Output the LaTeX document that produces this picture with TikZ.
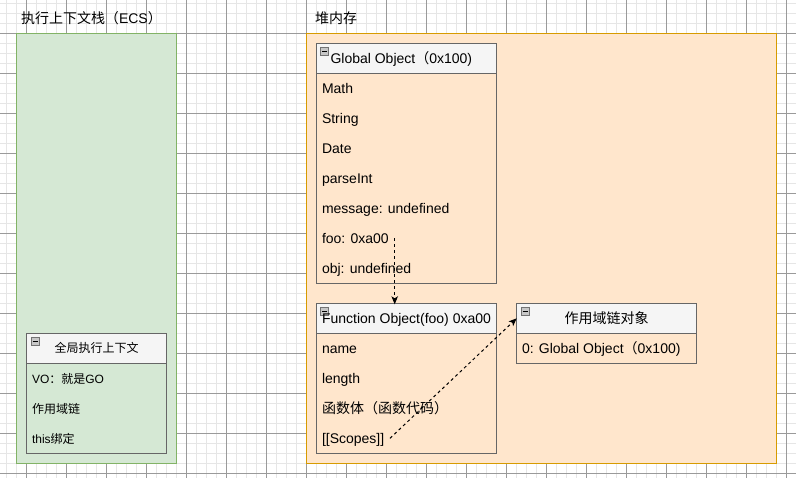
\documentclass[tikz,border=0pt]{standalone}
\usepackage{fontspec}
\setmainfont{Liberation Sans}
\newfontfamily\cjk{Noto Sans CJK SC}
\usetikzlibrary{arrows.meta}
\definecolor{gridminor}{HTML}{E6E6E6}
\definecolor{gridmajor}{HTML}{9A9A9A}
\definecolor{ecsfill}{HTML}{D5E8D4}
\definecolor{ecsline}{HTML}{82B366}
\definecolor{heapfill}{HTML}{FFE6CC}
\definecolor{heapline}{HTML}{D79B00}
\definecolor{hdrfill}{HTML}{F5F5F5}
\definecolor{boxline}{HTML}{666666}
\newcommand\fsA{\fontsize{14}{16}\selectfont}
\newcommand\fsB{\fontsize{12}{14}\selectfont}
\tikzset{
  minorline/.style={draw=gridminor, line width=1pt},
  majorline/.style={draw=gridmajor, line width=1pt},
  container/.style={draw=#1line, fill=#1fill, line width=1pt, inner sep=0, outer sep=0},
  boxbody/.style={draw=boxline, line width=1pt, inner sep=0, outer sep=0},
  boxhead/.style={draw=boxline, fill=hdrfill, line width=1pt, inner sep=0, outer sep=0, minimum height=30},
  icon/.style={draw=black!55, fill=black!22, line width=0.8pt, minimum size=8, inner sep=0,
    path picture={\draw[black, line width=1pt] ([xshift=-2.5pt]path picture bounding box.center) -- ([xshift=2.5pt]path picture bounding box.center);}},
  lbl/.style={anchor=base west, inner sep=0, outer sep=0, font=\fsA, text=black},
  lblc/.style={anchor=base, inner sep=0, outer sep=0, font=\fsA, text=black},
  dasharrow/.style={draw=black, line width=1pt, dash pattern=on 3pt off 3pt,
    -{Stealth[length=8pt, width=6.5pt, inset=2pt]}},
}
\begin{document}
\begin{tikzpicture}[x=1pt, y=-1pt]
\useasboundingbox (0,0) rectangle (796,478);
\fill[white] (0,0) rectangle (796,478);
% grid
\foreach \k in {0,...,78} \draw[minorline] (6.7+10*\k,0) -- (6.7+10*\k,478);
\foreach \k in {0,...,47} \draw[minorline] (0,3.3+10*\k) -- (796,3.3+10*\k);
\foreach \k in {0,...,19} \draw[majorline] (26.7+40*\k,0) -- (26.7+40*\k,478);
\foreach \k in {0,...,11} \draw[majorline] (0,33.3+40*\k) -- (796,33.3+40*\k);

% containers
\node[container=ecs, minimum width=160, minimum height=430] (ecs) at (96.7,248.3) {};
\node[container=heap, minimum width=470, minimum height=430] (heap) at (541.7,248.3) {};
\node[lbl] (ecstitle) at (21,24) {{\cjk 执行上下文栈（}ECS{\cjk ）}};
\node[lbl] (heaptitle) at (315,24) {\cjk 堆内存};

% Global Object
\node[boxbody, minimum width=180, minimum height=240] (gobj) at (406.7,163.3) {};
\node[boxhead, minimum width=180] (gobjh) at (406.7,58.3) {};
\node[icon] (gobjicon) at (324.7,51.7) {};
\node[lbl] (gobjt) at (330.5,63.6) {Global Object{\cjk （}0x100)};
\node[lbl] (g1) at (322,93.6) {Math};
\node[lbl] (g2) at (322,123.6) {String};
\node[lbl] (g3) at (322,153.6) {Date};
\node[lbl] (g4) at (322,183.6) {parseInt};
\node[lbl] (g5) at (322,213.6) {message: undefined};
\node[lbl] (g6) at (322,243.6) {foo: 0xa00};
\node[lbl] (g7) at (322,273.6) {obj: undefined};
\coordinate (fooref) at (394.7,238.3);

% Function Object
\node[boxbody, minimum width=180, minimum height=150] (fobj) at (406.7,378.3) {};
\node[boxhead, minimum width=180] (fobjh) at (406.7,318.3) {};
\node[icon] (fobjicon) at (324.7,311.7) {};
\node[lblc] (fobjt) at (406.5,323.6) {Function Object(foo) 0xa00};
\node[lbl] (f1) at (322,353.6) {name};
\node[lbl] (f2) at (322,383.6) {length};
\node[lbl] (f3) at (322,413.6) {\cjk 函数体（函数代码）};
\node[lbl] (f4) at (322,443.6) {[[Scopes]]};
\coordinate (scopesref) at (390,438.3);

% Scope chain object
\node[boxbody, minimum width=180, minimum height=60] (scope) at (606.7,333.3) {};
\node[boxhead, minimum width=180] (scopeh) at (606.7,318.3) {};
\node[icon] (scopeicon) at (525,311.7) {};
\node[lblc] (scopet) at (606.7,324) {\cjk 作用域链对象};
\node[lbl] (s1) at (522,354) {0: Global Object{\cjk （}0x100)};

% Global execution context
\node[boxbody, minimum width=140, minimum height=120] (gec) at (96.7,393.3) {};
\node[boxhead, minimum width=140] (gech) at (96.7,348.3) {};
\node[icon] (gecicon) at (35.2,341.7) {};
\node[lblc, font=\fsB] (gect) at (96.7,352.6) {\cjk 全局执行上下文};
\node[lbl, font=\fsB] (e1) at (32,383.2) {VO{\cjk ：就是}GO};
\node[lbl, font=\fsB] (e2) at (32,413.2) {\cjk 作用域链};
\node[lbl, font=\fsB] (e3) at (32,443.2) {this{\cjk 绑定}};

% connectors
\draw[dasharrow] (fooref) -- ([yshift=-1pt]fooref |- fobjh.north);
\draw[dasharrow] (scopesref) -- (scopeh.west);
\end{tikzpicture}
\end{document}
